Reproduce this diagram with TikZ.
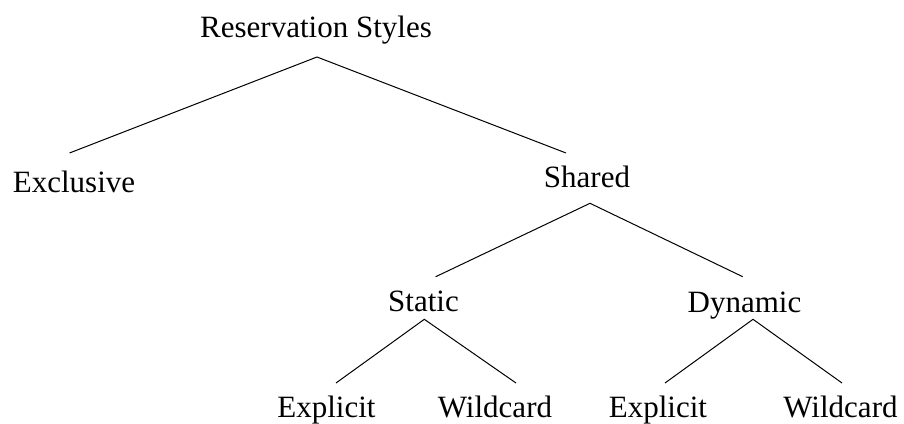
\documentclass[tikz,border=0pt]{standalone}
\usepackage{fontspec}
\setmainfont{Liberation Serif}
\begin{document}
\begin{tikzpicture}[x=1pt,y=-1pt,
  lbl/.style={anchor=base,inner sep=0pt,font=\fontsize{31}{37}\selectfont},
  edge/.style={line width=1pt}]
\useasboundingbox (0,0) rectangle (904,423);
\node[lbl] (rs) at (316,37) {Reservation Styles};
\node[lbl] (ex) at (74,192) {Exclusive};
\node[lbl] (sh) at (587,187) {Shared};
\node[lbl] (st) at (423.5,311.5) {Static};
\node[lbl] (dy) at (744.5,312.5) {Dynamic};
\node[lbl] (e1) at (326.5,417) {Explicit};
\node[lbl] (w1) at (495,417) {Wildcard};
\node[lbl] (e2) at (658,417) {Explicit};
\node[lbl] (w2) at (840.5,417) {Wildcard};
% connector endpoints
\coordinate (rsb) at (317,57);
\coordinate (ext) at (69.5,153);
\coordinate (sht) at (566,153);
\coordinate (shb) at (590,203.3);
\coordinate (stt) at (435.7,276.7);
\coordinate (dyt) at (742.7,276.7);
\coordinate (stb) at (424.3,319.3);
\coordinate (e1t) at (336,383);
\coordinate (w1t) at (516,383);
\coordinate (dyb) at (753,319.3);
\coordinate (e2t) at (665,383);
\coordinate (w2t) at (842,383);
\draw[edge] (ext) -- (rsb) -- (sht);
\draw[edge] (stt) -- (shb) -- (dyt);
\draw[edge] (e1t) -- (stb) -- (w1t);
\draw[edge] (e2t) -- (dyb) -- (w2t);
\end{tikzpicture}
\end{document}
